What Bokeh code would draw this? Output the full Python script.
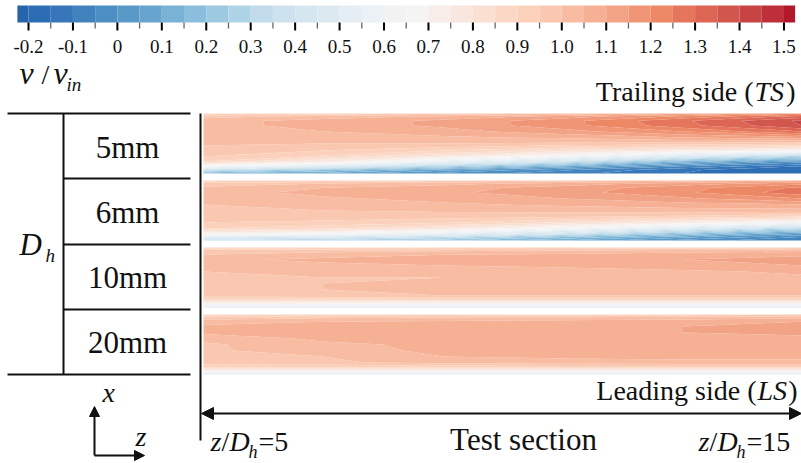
import numpy as np
from bokeh.plotting import figure
from bokeh.models import Range1d, Arrow, NormalHead
from bokeh.embed import file_html
from bokeh.resources import INLINE
from bokeh.core.properties import value

# ---- colour scale: v / v_in, bands of 0.05 with open ends ----
levels = [round(-0.25 + 0.05 * i, 2) for i in range(37)]
palette = [
    "#2863ae", "#2d6db4", "#3676b9", "#4283be", "#4d8ec3", "#5999c8",
    "#67a5ce", "#78b2d5", "#8bbedc", "#9dc9e1", "#afd3e6", "#c1dbea",
    "#cde2ee", "#d6e6f0", "#dde9f1", "#e5eef4", "#ecf1f5", "#f2f2f3",
    "#f5f4f3", "#f8ede8", "#f9e6de", "#fae0d3", "#fbd8c6", "#fcd1bb",
    "#fac8b0", "#f8bca2", "#f6b094", "#f3a385", "#f09676", "#ec8863",
    "#e5765b", "#dc6553", "#d1564c", "#c74443", "#bd303b", "#b2182b",
]
tick_values = [round(-0.2 + 0.1 * i, 1) for i in range(18)]
tick_labels = ["-0.2", "-0.1", "0", "0.1", "0.2", "0.3", "0.4", "0.5", "0.6",
               "0.7", "0.8", "0.9", "1.0", "1.1", "1.2", "1.3", "1.4", "1.5"]

# ---- velocity fields, rows from trailing wall (0) to leading wall (1) ----
cases = ["5mm", "6mm", "10mm", "20mm"]
z_stations = [5, 7, 9, 11, 13, 15]
wall_fraction = [0.0, 0.05, 0.12, 0.20, 0.30, 0.40, 0.50, 0.60, 0.70, 0.80, 0.88, 0.94, 1.0]

v_5mm = [
    [0.88, 0.92, 0.95, 1.00, 1.09, 1.20],
    [0.98, 1.02, 1.06, 1.12, 1.21, 1.32],
    [1.03, 1.07, 1.11, 1.18, 1.29, 1.41],
    [1.03, 1.07, 1.11, 1.18, 1.28, 1.40],
    [1.02, 1.05, 1.08, 1.13, 1.20, 1.30],
    [1.02, 1.03, 1.04, 1.06, 1.10, 1.14],
    [1.01, 1.00, 1.00, 0.99, 0.98, 0.96],
    [0.98, 0.96, 0.92, 0.86, 0.80, 0.74],
    [0.96, 0.90, 0.80, 0.66, 0.48, 0.32],
    [0.90, 0.76, 0.55, 0.36, 0.14, -0.02],
    [0.62, 0.45, 0.26, 0.10, -0.05, -0.15],
    [0.33, 0.20, 0.07, -0.04, -0.14, -0.20],
    [0.15, 0.08, -0.02, -0.08, -0.15, -0.19],
]
v_6mm = [
    [0.88, 0.90, 0.93, 0.97, 1.02, 1.08],
    [0.97, 1.00, 1.03, 1.07, 1.12, 1.18],
    [1.01, 1.05, 1.08, 1.12, 1.18, 1.26],
    [1.02, 1.07, 1.09, 1.13, 1.19, 1.28],
    [1.01, 1.04, 1.07, 1.10, 1.14, 1.20],
    [1.00, 1.02, 1.04, 1.06, 1.08, 1.10],
    [0.98, 1.00, 1.01, 1.02, 1.03, 1.03],
    [0.97, 0.97, 0.97, 0.96, 0.94, 0.90],
    [0.95, 0.94, 0.91, 0.84, 0.74, 0.62],
    [0.90, 0.86, 0.78, 0.62, 0.45, 0.28],
    [0.72, 0.66, 0.55, 0.40, 0.22, 0.06],
    [0.48, 0.43, 0.34, 0.20, 0.07, -0.05],
    [0.32, 0.28, 0.22, 0.10, -0.02, -0.10],
]
v_10mm = [
    [0.88, 0.88, 0.90, 0.90, 0.92, 0.93],
    [0.97, 0.98, 0.99, 1.00, 1.02, 1.03],
    [1.00, 1.03, 1.05, 1.06, 1.08, 1.09],
    [1.04, 1.06, 1.07, 1.08, 1.10, 1.12],
    [1.03, 1.04, 1.05, 1.06, 1.08, 1.10],
    [1.00, 1.01, 1.02, 1.03, 1.04, 1.06],
    [0.99, 1.00, 1.00, 1.01, 1.02, 1.04],
    [0.99, 1.00, 1.02, 1.02, 1.04, 1.05],
    [0.99, 1.00, 1.04, 1.03, 1.02, 1.02],
    [0.98, 0.99, 1.00, 1.00, 1.00, 1.00],
    [0.86, 0.86, 0.86, 0.86, 0.86, 0.86],
    [0.68, 0.68, 0.68, 0.68, 0.68, 0.68],
    [0.42, 0.42, 0.42, 0.42, 0.42, 0.42],
]
v_20mm = [
    [0.88, 0.90, 0.90, 0.92, 0.93, 0.95],
    [0.97, 0.99, 1.00, 1.01, 1.02, 1.04],
    [1.03, 1.05, 1.06, 1.07, 1.08, 1.10],
    [1.06, 1.07, 1.07, 1.08, 1.10, 1.13],
    [1.06, 1.07, 1.08, 1.08, 1.10, 1.12],
    [1.02, 1.06, 1.07, 1.07, 1.08, 1.08],
    [0.99, 1.04, 1.06, 1.06, 1.07, 1.07],
    [0.99, 1.03, 1.06, 1.06, 1.06, 1.07],
    [0.98, 1.00, 1.05, 1.06, 1.06, 1.06],
    [0.98, 0.99, 1.02, 1.03, 1.04, 1.04],
    [0.90, 0.90, 0.91, 0.92, 0.92, 0.92],
    [0.72, 0.72, 0.72, 0.72, 0.72, 0.72],
    [0.42, 0.42, 0.42, 0.42, 0.42, 0.42],
]
fields = [v_5mm, v_6mm, v_10mm, v_20mm]

SERIF = value("Liberation Serif")
INK = "#111111"
W, H = 801, 463

p = figure(width=W, height=H, x_range=Range1d(0, W), y_range=Range1d(H, 0),
           x_axis_location=None, y_axis_location=None,
           toolbar_location=None, output_backend="svg", min_border=0,
           outline_line_color=None, background_fill_color="white")
p.grid.visible = False


def label(xs, baseline, texts, size, italic=False, align="left"):
    """Place text so that its alphabetic baseline sits at the given y."""
    ys = [b - 0.35 * size for b in baseline]
    p.text(x=xs, y=ys, text=texts, text_font=SERIF, text_font_size=f"{size}px",
           text_font_style="italic" if italic else "normal", text_align=align,
           text_baseline="alphabetic", text_color=INK)


# ---- colour bar ----
def bar_x(v):
    return 28 + (v + 0.2) * 444.4


lo, hi = -0.225, 1.525
lefts = [bar_x(max(levels[k], lo)) for k in range(36)]
rights = [bar_x(min(levels[k + 1], hi)) for k in range(36)]
p.quad(left=lefts, right=rights, top=[5] * 36, bottom=[22] * 36,
       fill_color=palette, line_color=None)

minor_ticks = [round(t + 0.05, 2) for t in tick_values[:-1]]
p.segment(x0=[bar_x(t) for t in tick_values], x1=[bar_x(t) for t in tick_values],
          y0=[22] * len(tick_values), y1=[30] * len(tick_values),
          line_color="black", line_width=2)
p.segment(x0=[bar_x(t) for t in minor_ticks], x1=[bar_x(t) for t in minor_ticks],
          y0=[22] * len(minor_ticks), y1=[28] * len(minor_ticks),
          line_color="#666666", line_width=1.3)
label([bar_x(t) for t in tick_values], [53] * len(tick_values), tick_labels, 19,
      align="center")

# colour bar title v / v_in
label([19, 53], [84, 84], ["v", "v"], 32, italic=True)
label([41], [84], ["/"], 28)
label([66], [91], ["in"], 19, italic=True)

# ---- velocity contour panels ----
x_left, x_right = 203, 801
panel_tops = [113, 180, 247, 314]
panel_h = 60
for top, field in zip(panel_tops, fields):
    xs = x_left + (np.array(z_stations, dtype=float) - 5) / 10 * (x_right - x_left)
    ys = top + np.array(wall_fraction) * panel_h
    p.contour(x=xs, y=ys, z=np.array(field, dtype=float), levels=levels,
              fill_color=palette)

# ---- case table on the left ----
line_kw = dict(line_color=INK, line_width=2)
p.segment(x0=[7, 63, 63, 63, 7], x1=[190, 190, 190, 190, 190],
          y0=[113, 178, 244, 309, 374], y1=[113, 178, 244, 309, 374], **line_kw)
p.segment(x0=[63], x1=[63], y0=[113], y1=[374], **line_kw)
label([127] * 4, [158, 223, 288, 353], cases, 31, align="center")
label([19], [255], ["D"], 31, italic=True)
label([45], [262], ["h"], 19, italic=True)

# ---- side labels ----
label([753], [101], ["Trailing side ("], 28, align="right")
label([754], [101], ["TS"], 28, italic=True)
label([795], [101], [")"], 28, align="right")

label([756], [400], ["Leading side ("], 28, align="right")
label([757], [400], ["LS"], 28, italic=True)
label([797], [400], [")"], 28, align="right")

# ---- test section extent ----
p.segment(x0=[200], x1=[200], y0=[113], y1=[440], **line_kw)
head = dict(fill_color=INK, line_color=INK)
p.add_layout(Arrow(x_start=201, y_start=413, x_end=801, y_end=413, line_width=2,
                   line_color=INK, start=NormalHead(size=12, **head),
                   end=NormalHead(size=12, **head)))
label([523], [450], ["Test section"], 31, align="center")

for x0, num in [(210, "5"), (698, "15")]:
    label([x0, x0 + 19], [451, 451], ["z", "D"], 28, italic=True)
    label([x0 + 11], [451], ["/"], 28)
    label([x0 + 38], [458], ["h"], 18, italic=True)
    label([x0 + 48], [451], ["=" + num], 28)

# ---- coordinate icon ----
for xe, ye in [(94, 406), (144, 455)]:
    p.add_layout(Arrow(x_start=94, y_start=455, x_end=xe, y_end=ye, line_width=2,
                       line_color=INK, start=None, end=NormalHead(size=10, **head)))
label([102, 135], [402, 446], ["x", "z"], 28, italic=True)

open("out.html", "w").write(file_html(p, INLINE))
